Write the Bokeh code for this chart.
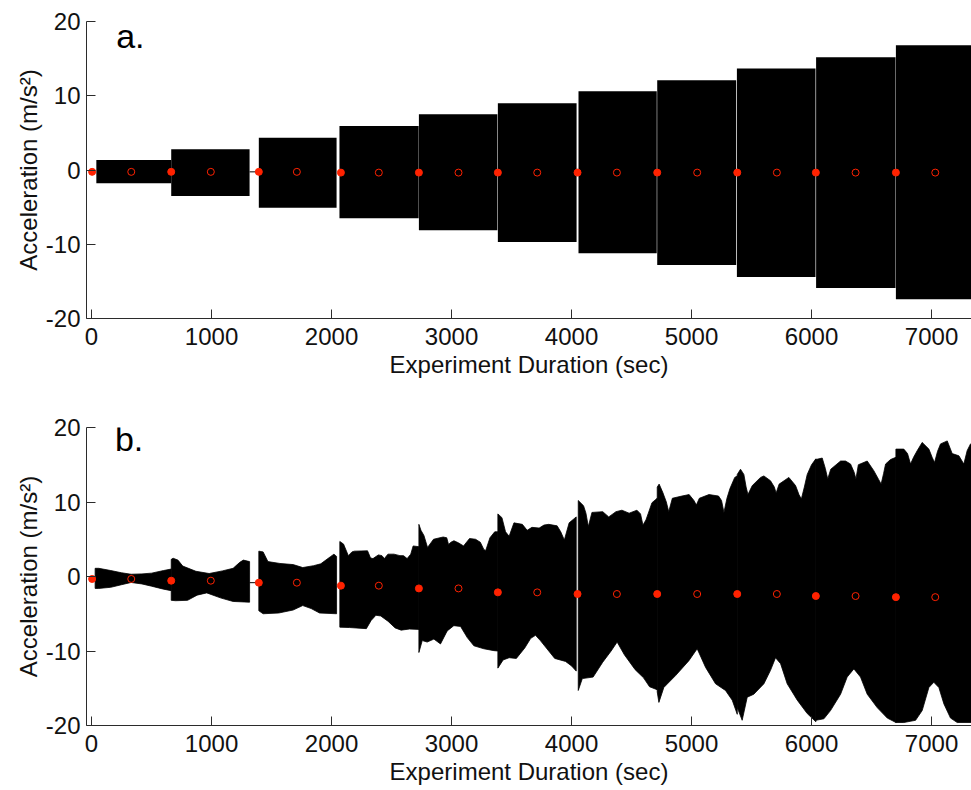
from bokeh.plotting import figure
from bokeh.models import Range1d, FixedTicker, Label
from bokeh.layouts import column
from bokeh.embed import file_html
from bokeh.resources import INLINE

# ---------------- data ----------------
time_ticks = [0, 1000, 2000, 3000, 4000, 5000, 6000, 7000]
acc_ticks = [-20, -10, 0, 10, 20]

# segment start (filled markers) and segment middle (open markers), seconds
seg_start_t = [5, 664, 1394, 2078, 2728, 3386, 4050, 4714, 5381, 6036, 6703]
seg_mid_t = [331, 994, 1711, 2394, 3058, 3714, 4378, 5047, 5711, 6367, 7031]

# mean acceleration per segment (red markers)
mean_a = [-0.25, -0.25, -0.25, -0.35, -0.35, -0.35, -0.35, -0.35, -0.35, -0.35, -0.35]
mean_b = [-0.33, -0.56, -0.83, -1.23, -1.6, -2.13, -2.35, -2.35, -2.35, -2.62, -2.77]

# panel a: constant-amplitude envelopes per segment
a_left = [40, 664, 1394, 2066, 2728, 3386, 4058, 4714, 5378, 6038, 6703]
a_right = [664, 1317, 2042, 2726, 3382, 4042, 4710, 5372, 6033, 6700, 7400]
a_top = [1.35, 2.8, 4.35, 5.93, 7.5, 9.0, 10.6, 12.1, 13.66, 15.2, 16.8]
a_bot = [-1.8, -3.5, -5.1, -6.5, -8.1, -9.7, -11.2, -12.8, -14.4, -15.9, -17.4]

# panel b: envelope (upper and lower) per segment
b_top_x = [
    [30, 60, 160, 250, 330, 420, 500, 600, 664],
    [664, 680, 720, 760, 870, 980, 1090, 1180, 1235, 1265, 1317],
    [1394, 1430, 1470, 1570, 1680, 1760, 1850, 1910, 1990, 2020, 2042],
    [2069, 2100, 2140, 2170, 2190, 2300, 2325, 2345, 2390, 2420, 2440, 2470, 2520, 2570, 2600, 2630, 2660, 2680, 2728],
    [2728, 2745, 2770, 2800, 2850, 2930, 2960, 2975, 2995, 3020, 3060, 3100, 3150, 3200, 3240, 3270, 3285, 3320, 3360, 3386],
    [3386, 3420, 3450, 3480, 3520, 3590, 3630, 3670, 3730, 3770, 3810, 3880, 3910, 3940, 3980, 4039],
    [4056, 4100, 4120, 4140, 4170, 4260, 4310, 4370, 4420, 4480, 4545, 4575, 4595, 4620, 4640, 4670, 4714],
    [4714, 4730, 4760, 4790, 4810, 4840, 4920, 4980, 5020, 5040, 5065, 5145, 5225, 5250, 5270, 5295, 5320, 5360, 5381],
    [5381, 5408, 5436, 5455, 5470, 5506, 5575, 5603, 5658, 5690, 5705, 5730, 5811, 5867, 5895, 5915, 5940, 5964, 6000, 6036],
    [6036, 6089, 6115, 6135, 6160, 6242, 6283, 6325, 6355, 6370, 6390, 6464, 6519, 6560, 6580, 6600, 6617, 6658, 6703],
    [6703, 6769, 6800, 6825, 6850, 6881, 6922, 6978, 7005, 7025, 7050, 7075, 7131, 7172, 7228, 7269, 7297, 7325, 7400],
]
b_top_y = [
    [1.1, 1.1, 0.8, 0.5, 0.3, 0.35, 0.45, 0.8, 1.0],
    [2.3, 2.45, 2.2, 1.4, 0.7, 0.4, 0.75, 1.1, 1.9, 2.2, 2.0],
    [3.4, 3.3, 2.0, 1.75, 1.6, 1.2, 1.45, 1.7, 2.65, 3.0, 2.7],
    [4.7, 4.35, 2.8, 3.3, 3.4, 3.45, 2.5, 2.4, 2.9, 2.8, 2.4, 3.0, 3.0, 2.8, 2.8, 2.4, 3.0, 4.1, 4.0],
    [7.0, 6.2, 5.5, 3.9, 5.0, 5.3, 5.2, 4.3, 4.6, 4.8, 4.5, 4.1, 5.1, 5.0, 4.6, 3.6, 3.5, 5.2, 6.0, 6.0],
    [8.4, 7.9, 6.0, 5.4, 7.2, 7.0, 6.2, 6.6, 6.5, 6.9, 7.0, 6.8, 6.0, 4.9, 7.2, 8.0],
    [10.2, 9.5, 8.5, 6.7, 8.6, 8.7, 8.0, 8.7, 8.9, 8.5, 8.9, 8.4, 6.9, 7.6, 8.5, 9.9, 10.5],
    [12.0, 12.4, 11.3, 10.0, 8.7, 10.5, 10.8, 11.0, 10.2, 9.6, 10.5, 11.0, 10.8, 10.2, 8.6, 10.5, 11.8, 13.3, 13.5],
    [13.7, 14.4, 13.7, 12.0, 11.0, 12.2, 13.3, 13.5, 12.85, 12.0, 11.2, 12.4, 13.3, 12.2, 11.0, 10.4, 12.0, 13.7, 15.0, 15.8],
    [15.7, 15.9, 14.5, 13.1, 14.4, 15.5, 15.5, 15.1, 14.0, 13.1, 15.0, 15.5, 14.2, 13.0, 12.4, 13.8, 15.1, 15.7, 16.0],
    [17.1, 17.1, 16.5, 15.1, 16.0, 16.9, 18.0, 17.1, 16.0, 15.3, 16.8, 17.8, 18.2, 16.5, 16.2, 15.1, 16.9, 17.8, 17.8],
]
b_bot_x = [
    [30, 60, 160, 250, 330, 420, 500, 600, 664],
    [664, 700, 800, 880, 960, 1080, 1180, 1317],
    [1394, 1430, 1560, 1680, 1760, 1830, 1900, 2042],
    [2069, 2150, 2290, 2330, 2370, 2410, 2470, 2530, 2580, 2650, 2728],
    [2728, 2756, 2797, 2853, 2908, 2964, 3019, 3075, 3131, 3186, 3269, 3353, 3386],
    [3386, 3430, 3480, 3540, 3610, 3660, 3700, 3740, 3790, 3860, 3950, 4000, 4039],
    [4056, 4090, 4180, 4260, 4330, 4380, 4440, 4530, 4600, 4650, 4714],
    [4714, 4728, 4769, 4867, 4978, 5047, 5117, 5200, 5283, 5339, 5381],
    [5381, 5422, 5464, 5519, 5603, 5658, 5700, 5742, 5797, 5881, 5964, 6036],
    [6036, 6103, 6158, 6242, 6297, 6353, 6408, 6464, 6547, 6631, 6703],
    [6703, 6769, 6867, 6922, 6978, 7019, 7061, 7103, 7158, 7214, 7400],
]
b_bot_y = [
    [-1.6, -1.6, -1.45, -1.1, -0.8, -1.0, -1.3, -1.7, -1.9],
    [-3.2, -3.25, -3.2, -2.5, -2.2, -2.9, -3.35, -3.45],
    [-4.6, -5.0, -4.9, -4.5, -3.9, -4.3, -4.9, -5.0],
    [-6.8, -6.85, -7.0, -5.9, -5.2, -5.3, -6.0, -6.9, -7.2, -7.05, -7.1],
    [-10.2, -8.6, -8.8, -8.4, -9.05, -7.3, -6.6, -6.7, -8.2, -9.3, -9.7, -9.95, -10.0],
    [-12.3, -11.2, -10.9, -11.0, -9.6, -8.3, -7.9, -8.6, -9.6, -11.0, -11.4, -12.0, -12.7],
    [-15.3, -13.7, -13.5, -11.5, -10.0, -8.8, -10.5, -12.5, -13.6, -14.8, -15.2],
    [-15.5, -16.9, -14.9, -13.3, -11.3, -9.7, -12.2, -14.4, -15.3, -16.6, -18.5],
    [-17.6, -19.3, -16.2, -15.8, -14.4, -12.6, -10.9, -11.7, -14.4, -16.6, -18.4, -19.5],
    [-19.3, -19.1, -18.0, -15.8, -13.5, -12.4, -13.5, -15.8, -17.6, -19.0, -19.6],
    [-19.6, -19.6, -19.3, -18.0, -14.9, -14.2, -14.9, -17.1, -19.0, -19.6, -19.6],
]

# index of the segment after which the signal rests (flat line) before the next
rest_after = [1]

# ---------------- styling ----------------
FONT = "Liberation Sans"
RED = "#ff2200"
AXIS = "#2b2b2b"
X_START, X_END = -42, 7333


def make_panel(tag, tag_x, tag_y, border_top, border_bottom, frame_h):
    p = figure(frame_width=885, frame_height=frame_h,
               x_range=Range1d(X_START, X_END), y_range=Range1d(-20, 20),
               output_backend="svg", toolbar_location=None,
               min_border_left=86, min_border_right=0,
               min_border_top=border_top, min_border_bottom=border_bottom)
    p.xgrid.visible = False
    p.ygrid.visible = False
    p.outline_line_color = None
    p.background_fill_color = "white"
    p.border_fill_color = "white"

    p.xaxis.ticker = FixedTicker(ticks=time_ticks)
    p.yaxis.ticker = FixedTicker(ticks=acc_ticks)
    p.xaxis.major_label_overrides = {t: str(t) for t in time_ticks}
    p.yaxis.major_label_overrides = {t: str(t) for t in acc_ticks}
    p.xaxis.axis_label = "Experiment Duration (sec)"
    p.yaxis.axis_label = "Acceleration (m/s\u00b2)"
    for ax in (p.xaxis[0], p.yaxis[0]):
        ax.axis_line_color = AXIS
        ax.axis_line_width = 1
        ax.major_tick_line_color = AXIS
        ax.major_tick_in = 9
        ax.major_tick_out = 0
        ax.minor_tick_in = 0
        ax.minor_tick_out = 0
        ax.major_label_text_font = FONT
        ax.major_label_text_font_size = "24px"
        ax.major_label_text_color = "#111111"
        ax.axis_label_text_font = FONT
        ax.axis_label_text_font_size = "24px"
        ax.axis_label_text_font_style = "normal"
        ax.axis_label_text_color = "#111111"
    p.xaxis.major_label_standoff = 9
    p.xaxis.axis_label_standoff = 3
    p.yaxis.major_label_standoff = 6
    p.yaxis.axis_label_standoff = 1

    p.add_layout(Label(x=tag_x, y=tag_y, text=tag, text_font=FONT,
                       text_font_size="34px", text_color="black",
                       text_baseline="alphabetic", text_align="left"))
    return p


def add_markers(p, means):
    p.scatter(seg_start_t, means, marker="circle", size=7,
              fill_color=RED, line_color=RED, line_width=1)
    p.scatter(seg_mid_t, means, marker="circle", size=7,
              fill_color=None, line_color=RED, line_width=1)


def add_rest_lines(p, rights, lefts, means):
    for i in rest_after:
        p.line([rights[i], lefts[i + 1]], [means[i + 1], means[i + 1]],
               line_color="black", line_width=1)


# panel a
pa = make_panel("a.", 205, 18.1, 21, 70, 297)
pa.quad(left=a_left, right=a_right, top=a_top, bottom=a_bot,
        fill_color="black", line_color=None)
add_rest_lines(pa, a_right, a_left, mean_a)
add_markers(pa, mean_a)

# panel b
pb = make_panel("b.", 195, 18.5, 39, 63, 298)
xs = [tx + bx[::-1] for tx, bx in zip(b_top_x, b_bot_x)]
ys = [ty + by[::-1] for ty, by in zip(b_top_y, b_bot_y)]
pb.patches(xs, ys, fill_color="black", line_color="black", line_width=0.8)
b_right = [seg[-1] for seg in b_top_x]
b_left = [seg[0] for seg in b_top_x]
add_rest_lines(pb, b_right, b_left, mean_b)
add_markers(pb, mean_b)

layout = column(pa, pb, spacing=0)
open("out.html", "w").write(file_html(layout, INLINE))
